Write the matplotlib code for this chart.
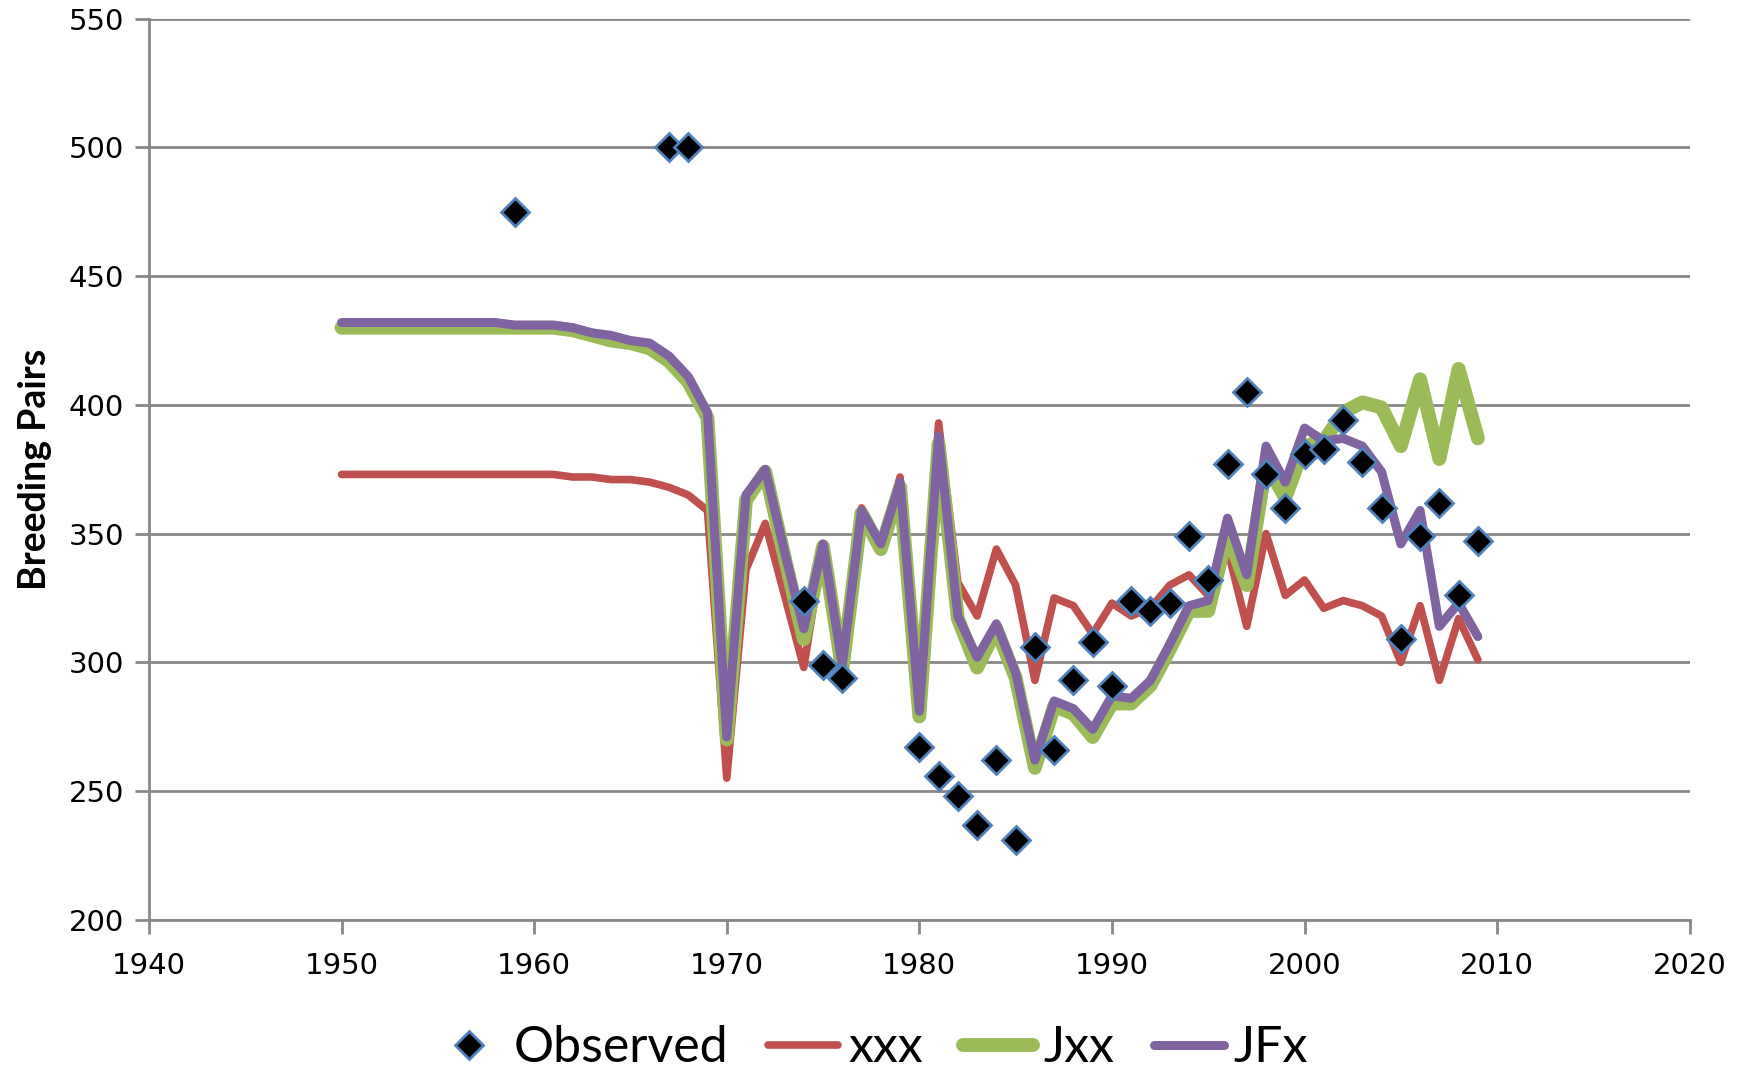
import matplotlib
matplotlib.use("Agg")
import matplotlib.pyplot as plt

# model runs, one value per year 1950-2009
years = list(range(1950, 2010))

xxx = [373, 373, 373, 373, 373, 373, 373, 373, 373, 373,
       373, 373, 372, 372, 371, 371, 370, 368, 365, 359,
       255, 336, 354, 326, 298, 345, 294, 360, 346, 372,
       282, 393, 331, 318, 344, 330, 293, 325, 322, 311,
       323, 318, 321, 330, 334, 326, 344, 314, 350, 326,
       332, 321, 324, 322, 318, 300, 322, 293, 317, 301]

jxx = [430, 430, 430, 430, 430, 430, 430, 430, 430, 430,
       430, 430, 429, 427, 425, 424, 422, 417, 409, 395,
       270, 363, 374, 341, 309, 345, 297, 358, 344, 368,
       279, 385, 317, 298, 313, 294, 259, 283, 280, 271,
       284, 284, 291, 305, 320, 320, 350, 330, 377, 364,
       384, 386, 397, 401, 399, 384, 410, 379, 414, 387]

jfx = [432, 432, 432, 432, 432, 432, 432, 432, 432, 431,
       431, 431, 430, 428, 427, 425, 424, 419, 411, 397,
       271, 365, 375, 343, 313, 346, 299, 359, 346, 370,
       281, 388, 318, 302, 315, 296, 262, 285, 282, 274,
       287, 286, 293, 307, 322, 324, 356, 334, 384, 370,
       391, 386, 387, 384, 374, 346, 359, 314, 323, 310]

# observed counts
obs_years = [1959, 1967, 1968, 1974, 1975, 1976, 1980, 1981, 1982, 1983,
             1984, 1985, 1986, 1987, 1988, 1989, 1990, 1991, 1992, 1993,
             1994, 1995, 1996, 1997, 1998, 1999, 2000, 2001, 2002, 2003,
             2004, 2005, 2006, 2007, 2008, 2009]
obs_vals = [475, 500, 500, 324, 299, 294, 267, 256, 248, 237,
            262, 231, 306, 266, 293, 308, 291, 324, 320, 323,
            349, 332, 377, 405, 373, 360, 381, 383, 394, 378,
            360, 309, 349, 362, 326, 347]

grey = "#888888"
narrow = ["Lato", "DejaVu Sans"]

fig = plt.figure(figsize=(17.42, 10.72), dpi=100)
ax = fig.add_axes([0.0855, 0.142, 0.8845, 0.8405])

ax.plot(years, xxx, color="#C0504D", lw=5.5, solid_capstyle="round", label="xxx", zorder=3)
ax.plot(years, jxx, color="#9BBB59", lw=10, solid_capstyle="round", label="Jxx", zorder=4)
ax.plot(years, jfx, color="#8064A2", lw=6.5, solid_capstyle="round", label="JFx", zorder=5)
ax.plot(obs_years, obs_vals, ls="none", marker="D", ms=14, mfc="black",
        mec="#4F81BD", mew=2, label="Observed", zorder=6)

ax.set_xlim(1940, 2020)
ax.set_ylim(200, 550)
ax.set_xticks(range(1940, 2021, 10))
ax.set_yticks(range(200, 551, 50))
ax.yaxis.grid(True, color=grey, lw=2)
ax.set_axisbelow(True)

for s in ["top", "right"]:
    ax.spines[s].set_visible(False)
for s in ["left", "bottom"]:
    ax.spines[s].set_color(grey)
    ax.spines[s].set_linewidth(2)

ax.tick_params(axis="both", direction="out", length=10, width=2, color=grey,
               labelsize=21, pad=8)
ax.tick_params(axis="x", pad=13)
ax.set_ylabel("Breeding Pairs", fontsize=27, fontweight="bold",
              family=narrow, labelpad=12)

handles, labels = ax.get_legend_handles_labels()
order = [3, 0, 1, 2]
fig.legend([handles[i] for i in order], [labels[i] for i in order],
           loc="center", bbox_to_anchor=(0.5, 0.022), ncol=4, frameon=False,
           handlelength=1.4, handletextpad=0.2, columnspacing=0.8,
           prop={"family": narrow, "size": 36})

fig.savefig("out.png", dpi=100)
